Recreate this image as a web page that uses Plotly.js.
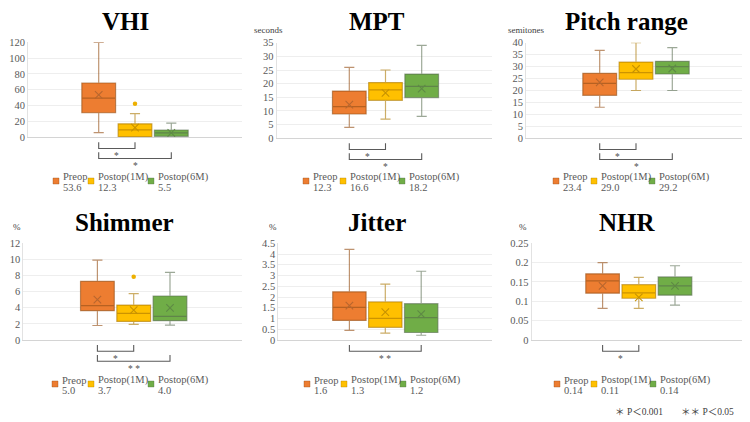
<!DOCTYPE html>
<html>
<head>
<meta charset="utf-8">
<script src="https://cdn.plot.ly/plotly-3.0.1.min.js"></script>
<style>
  html, body { margin: 0; padding: 0; background: #ffffff; }
  #chart { width: 750px; height: 422px; }
</style>
</head>
<body>
<div id="chart"></div>
<script>
// Voice outcome measures before and after surgery (box plots per measure)
const panelNames = ['VHI', 'MPT', 'Pitch range', 'Shimmer', 'Jitter', 'NHR'];
const unitLabels = ['', 'seconds', 'semitones', '%', '%', '%'];
const groupNames = ['Preop', 'Postop(1M)', 'Postop(6M)'];

// five-number summaries, one row per measure, one column per time point
const lowerFence = [[6, 0, 0.5], [4, 7, 8], [13, 20, 20], [1.8, 1.95, 1.85], [0.45, 0.32, 0.22], [0.082, 0.082, 0.09]];
const quartile1 = [[31, 0.8, 1.2], [8.9, 13.9, 14.9], [18, 24.7, 26.9], [3.64, 2.3, 2.4], [0.91, 0.59, 0.35], [0.121, 0.108, 0.116]];
const medians = [[49.5, 9.3, 5.5], [11.6, 17.7, 19], [23, 27.5, 30], [4.26, 3.3, 2.94], [1.52, 1.01, 1.04], [0.153, 0.122, 0.14]];
const quartile3 = [[68.6, 17, 9.2], [17.3, 20.4, 23.5], [27.2, 31.9, 32.2], [7.28, 4.34, 5.46], [2.24, 1.77, 1.69], [0.171, 0.143, 0.163]];
const upperFence = [[120, 30, 18], [26, 25, 34], [36.8, 40, 37.9], [9.9, 5.75, 8.4], [4.22, 2.6, 3.2], [0.2, 0.162, 0.192]];
const means = [[53.6, 12.3, 5.5], [12.3, 16.6, 18.2], [23.4, 29.0, 29.2], [5.0, 3.7, 4.0], [1.6, 1.3, 1.2], [0.14, 0.11, 0.14]];
const meanDigits = [1, 1, 1, 1, 1, 2];
const outliers = [[[], [42.5], []], [[], [], []], [[], [], []], [[], [7.86], []], [[], [], []], [[], [], []]];

// y axis extent and tick step per measure
const yMax = [120, 35, 40, 12, 4.5, 0.25];
const yStep = [20, 5, 5, 2, 0.5, 0.05];

// significance brackets: [from group, to group, marker]
const sigBrackets = [
  [[0, 1, '*'], [0, 2, '*']],
  [[0, 1, '*'], [0, 2, '*']],
  [[0, 1, '*'], [0, 2, '*']],
  [[0, 1, '*'], [0, 2, '* *']],
  [[0, 2, '* *']],
  [[0, 1, '*']]
];
const footnote = ['＊ P＜0.001', '＊＊ P＜0.05'];

// ---- styling ----
const W = 750, H = 422;
const SERIF = "'Liberation Serif', 'Times New Roman', serif";
const fillColors = ['#ED7D31', '#FFC000', '#70AD47'];
const strokeColors = ['rgba(150,80,25,0.62)', 'rgba(170,118,0,0.6)', 'rgba(85,105,75,0.58)'];
const meanColors = ['#B8662E', '#C79200', '#5E8A45'];
const outlierColors = ['#ED7D31', '#EDB000', '#70AD47'];
const textGray = '#595959';

// plot areas in pixels: left, right, top, bottom, centre of middle box, box spacing
const geom = [
  {l: 28,    r: 242,   t: 42.3,  b: 137.3, c: 135,   sp: 36.3},
  {l: 276.7, r: 491.7, t: 42.7,  b: 138.3, c: 385.5, sp: 36.2},
  {l: 526,   r: 741.7, t: 42.7,  b: 138.3, c: 636,   sp: 36.3},
  {l: 23.3,  r: 241.7, t: 243.3, b: 340,   c: 133.7, sp: 36.3},
  {l: 278.3, r: 491.7, t: 243.3, b: 340,   c: 385.3, sp: 35.9},
  {l: 531.7, r: 741.7, t: 243.3, b: 340,   c: 638.8, sp: 36.2}
];
const titlePos = [[125, 21], [376.7, 21.5], [626.7, 21], [124.7, 223], [377, 223], [627.3, 223]];
const unitPos = [[0, 0], [252, 30], [506, 30], [10.7, 227], [266.7, 227], [516.7, 227]];
const legendX = [[53, 88, 148], [303, 340, 399], [553, 591, 649], [52, 88, 148], [304, 341, 400], [554, 591, 650]];
const legendRowY = [178, 381];

const px = x => x / W;
const py = y => 1 - y / H;

const traces = [];
const layout = {
  width: W, height: H,
  margin: {l: 0, r: 0, t: 0, b: 0},
  paper_bgcolor: '#ffffff', plot_bgcolor: '#ffffff',
  showlegend: false,
  shapes: [], annotations: []
};

panelNames.forEach((name, p) => {
  const k = p + 1;
  const xa = 'x' + (k > 1 ? k : ''), ya = 'y' + (k > 1 ? k : '');
  const g = geom[p];

  layout['xaxis' + (k > 1 ? k : '')] = {
    domain: [px(g.l), px(g.r)], anchor: ya,
    range: [1 - (g.c - g.l) / g.sp, 1 + (g.r - g.c) / g.sp],
    showticklabels: false, showgrid: false, zeroline: false,
    showline: true, linecolor: '#D4D4D4', linewidth: 1, ticks: '', fixedrange: true
  };
  layout['yaxis' + (k > 1 ? k : '')] = {
    domain: [py(g.b), py(g.t)], anchor: xa,
    range: [0, yMax[p]], dtick: yStep[p], tick0: 0,
    showgrid: true, gridcolor: '#EEEEEE', gridwidth: 1, zeroline: false,
    showline: true, linecolor: '#E2E2E2', linewidth: 1, ticks: '',
    tickfont: {family: SERIF, size: 10.5, color: textGray}, fixedrange: true
  };

  groupNames.forEach((grp, j) => {
    traces.push({
      type: 'box', xaxis: xa, yaxis: ya, name: grp,
      x: [j],
      lowerfence: [lowerFence[p][j]], q1: [quartile1[p][j]], median: [medians[p][j]],
      q3: [quartile3[p][j]], upperfence: [upperFence[p][j]],
      width: 0.93, whiskerwidth: 0.3, boxpoints: false,
      fillcolor: fillColors[j],
      line: {color: strokeColors[j], width: 1.2},
      hoverinfo: 'skip'
    });
    if (outliers[p][j].length) {
      traces.push({
        type: 'scatter', mode: 'markers', xaxis: xa, yaxis: ya,
        x: outliers[p][j].map(() => j), y: outliers[p][j],
        marker: {size: 4.5, color: outlierColors[j]}, hoverinfo: 'skip'
      });
    }
  });

  // mean markers
  traces.push({
    type: 'scatter', mode: 'markers', xaxis: xa, yaxis: ya,
    x: [0, 1, 2], y: means[p],
    marker: {symbol: 'x-thin', size: 7.5, color: meanColors,
             line: {color: meanColors, width: 1.1}},
    hoverinfo: 'skip'
  });

  // panel title
  layout.annotations.push({
    xref: 'paper', yref: 'paper', x: px(titlePos[p][0]), y: py(titlePos[p][1]),
    xanchor: 'center', yanchor: 'middle', showarrow: false,
    text: '<b>' + name + '</b>', font: {family: SERIF, size: 25, color: '#000000'}
  });

  // unit label
  if (unitLabels[p]) {
    layout.annotations.push({
      xref: 'paper', yref: 'paper', x: px(unitPos[p][0]), y: py(unitPos[p][1]),
      xanchor: 'left', yanchor: 'middle', showarrow: false,
      text: unitLabels[p], font: {family: SERIF, size: 9, color: '#404040'}
    });
  }

  // significance brackets
  sigBrackets[p].forEach((br, lvl) => {
    const top = g.b + 5 + lvl * 10, bot = top + 6.2;
    layout.shapes.push({
      type: 'path', xref: xa, yref: 'paper',
      path: `M ${br[0]},${py(top)} L ${br[0]},${py(bot)} L ${br[1]},${py(bot)} L ${br[1]},${py(top)}`,
      line: {color: '#5A5A5A', width: 1.1}
    });
    layout.annotations.push({
      xref: xa, yref: 'paper', x: (br[0] + br[1]) / 2, y: py(bot + 7.5),
      xanchor: 'center', yanchor: 'middle', showarrow: false,
      text: br[2], font: {family: SERIF, size: 9.5, color: '#505050'}
    });
  });

  // legend: coloured square, group name and its mean
  const rowY = legendRowY[p < 3 ? 0 : 1];
  groupNames.forEach((grp, j) => {
    const sx = legendX[p][j];
    layout.shapes.push({
      type: 'rect', xref: 'paper', yref: 'paper',
      x0: px(sx), x1: px(sx + 6), y0: py(rowY + 6), y1: py(rowY),
      fillcolor: fillColors[j], line: {color: strokeColors[j], width: 0.6}
    });
    layout.annotations.push({
      xref: 'paper', yref: 'paper', x: px(sx + 8.3), y: py(rowY - 1),
      xanchor: 'left', yanchor: 'middle', showarrow: false,
      text: grp, font: {family: SERIF, size: 10.5, color: textGray}
    });
    layout.annotations.push({
      xref: 'paper', yref: 'paper', x: px(sx + 8.3), y: py(rowY + 9.5),
      xanchor: 'left', yanchor: 'middle', showarrow: false,
      text: means[p][j].toFixed(meanDigits[p]), font: {family: SERIF, size: 10.5, color: textGray}
    });
  });
});

// significance key
[[613, footnote[0]], [679, footnote[1]]].forEach(([x, t]) => {
  layout.annotations.push({
    xref: 'paper', yref: 'paper', x: px(x), y: py(411.7),
    xanchor: 'left', yanchor: 'middle', showarrow: false,
    text: t, font: {family: SERIF + ", 'Noto Sans CJK JP'", size: 9.5, color: '#404040'}
  });
});

Plotly.newPlot('chart', traces, layout, {staticPlot: true, displayModeBar: false});
</script>
</body>
</html>
